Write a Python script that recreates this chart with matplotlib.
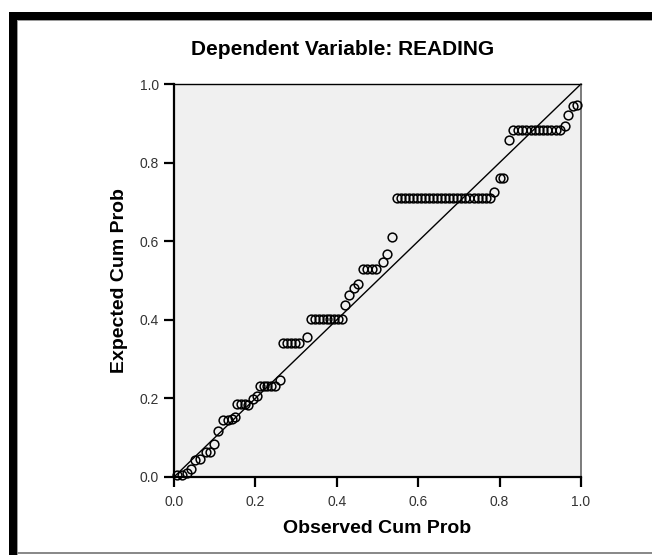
"""P-P plot of regression residuals, SPSS style."""

import matplotlib

matplotlib.use("Agg")

import matplotlib.pyplot as plt
from matplotlib.patches import Rectangle

plt.rcParams["font.family"] = ["Liberation Sans", "DejaVu Sans"]

TITLE = "Dependent Variable: READING"
X_LABEL = "Observed Cum Prob"
Y_LABEL = "Expected Cum Prob"
TICKS = [0.0, 0.2, 0.4, 0.6, 0.8, 1.0]
TICK_LABELS = ["0.0", "0.2", "0.4", "0.6", "0.8", "1.0"]

observed = [
    0.007, 0.019, 0.031, 0.041, 0.052, 0.064, 0.079, 0.088, 0.099, 0.109,
    0.121, 0.132, 0.142, 0.150, 0.156, 0.165, 0.174, 0.183, 0.193, 0.203,
    0.211, 0.220, 0.229, 0.239, 0.248, 0.260, 0.267, 0.277, 0.287, 0.297,
    0.308, 0.328, 0.337, 0.346, 0.356, 0.365, 0.375, 0.384, 0.393, 0.403,
    0.412, 0.420, 0.431, 0.442, 0.452, 0.465, 0.475, 0.486, 0.496, 0.513,
    0.523, 0.535, 0.547, 0.557, 0.567, 0.577, 0.587, 0.597, 0.607, 0.617,
    0.627, 0.637, 0.647, 0.656, 0.666, 0.676, 0.686, 0.696, 0.706, 0.716,
    0.726, 0.736, 0.746, 0.756, 0.766, 0.776, 0.786, 0.801, 0.809, 0.822,
    0.834, 0.844, 0.855, 0.865, 0.876, 0.886, 0.896, 0.907, 0.917, 0.927,
    0.938, 0.948, 0.961, 0.969, 0.980, 0.989,
]
expected = [
    0.004, 0.005, 0.009, 0.020, 0.044, 0.045, 0.063, 0.063, 0.084, 0.117,
    0.145, 0.145, 0.148, 0.152, 0.185, 0.185, 0.185, 0.184, 0.198, 0.206,
    0.231, 0.231, 0.231, 0.231, 0.231, 0.247, 0.340, 0.340, 0.340, 0.340,
    0.340, 0.357, 0.401, 0.401, 0.401, 0.401, 0.401, 0.401, 0.401, 0.401,
    0.401, 0.438, 0.463, 0.480, 0.490, 0.528, 0.528, 0.528, 0.528, 0.547,
    0.567, 0.610, 0.711, 0.711, 0.711, 0.711, 0.711, 0.711, 0.711, 0.711,
    0.711, 0.711, 0.711, 0.711, 0.711, 0.711, 0.711, 0.711, 0.711, 0.711,
    0.711, 0.711, 0.711, 0.711, 0.711, 0.711, 0.726, 0.760, 0.760, 0.858,
    0.883, 0.883, 0.883, 0.883, 0.883, 0.883, 0.883, 0.883, 0.883, 0.883,
    0.883, 0.883, 0.893, 0.921, 0.944, 0.947,
]

W, H = 652, 555
fig = plt.figure(figsize=(W / 100, H / 100), dpi=100)


def _px_rect(x0, y0, x1, y1, color):
    """Add a figure-level rectangle given in pixel coords (origin top-left)."""
    fig.add_artist(
        Rectangle(
            (x0 / W, 1 - y1 / H),
            (x1 - x0) / W,
            (y1 - y0) / H,
            transform=fig.transFigure,
            facecolor=color,
            edgecolor="none",
        )
    )


# black frame of the pasted output window
_px_rect(9, 12, 17, H, "#000000")
_px_rect(9, 12, W, 20, "#000000")
_px_rect(17, 20, 18, H, "#9a9a9a")
_px_rect(17, 20, W, 21, "#9a9a9a")
_px_rect(17, 552, W, 554, "#8a8a8a")

ax = fig.add_axes([174 / W, 1 - 477 / H, 407 / W, 393 / H])
ax.set_facecolor("#f0f0f0")
ax.plot([0, 1], [0, 1], color="black", linewidth=1.0, zorder=2)
ax.plot(
    observed,
    expected,
    linestyle="none",
    marker="o",
    markersize=6.3,
    markerfacecolor="none",
    markeredgecolor="black",
    markeredgewidth=1.1,
    zorder=3,
    clip_on=False,
)

ax.set_xlim(0, 1)
ax.set_ylim(0, 1)
ax.set_xticks(TICKS)
ax.set_xticklabels(TICK_LABELS)
ax.set_yticks(TICKS)
ax.set_yticklabels(TICK_LABELS)
ax.tick_params(
    direction="out", length=7, width=1.6, color="black",
    labelsize=10, labelcolor="#333333",
)
ax.tick_params(axis="x", pad=6)
ax.tick_params(axis="y", pad=4)
ax.spines["left"].set_linewidth(1.6)
ax.spines["bottom"].set_linewidth(1.6)
ax.spines["top"].set_linewidth(1.0)
ax.spines["right"].set_linewidth(1.2)
ax.spines["right"].set_color("#666666")

ax.set_xlabel(X_LABEL, fontsize=14, fontweight="bold", labelpad=8)
ax.set_ylabel(Y_LABEL, fontsize=14, fontweight="bold", labelpad=8)

fig.text(343 / W, 1 - 55 / H, TITLE, ha="center", va="baseline",
         fontsize=15, fontweight="bold")

fig.savefig("out.png", dpi=100)
